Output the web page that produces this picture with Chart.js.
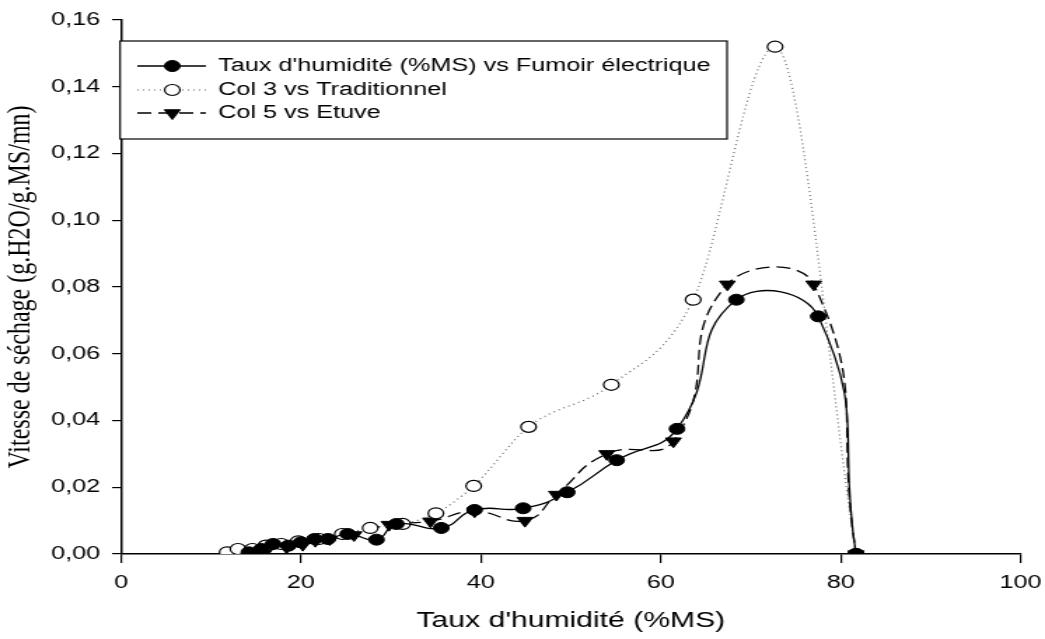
<!DOCTYPE html>
<html>
<head>
<meta charset="utf-8">
<title>Vitesse de séchage</title>
<script src="https://cdn.jsdelivr.net/npm/chart.js@4.4.1/dist/chart.umd.min.js"></script>
<style>
  html, body { margin: 0; padding: 0; background: #fff; overflow: hidden; }
</style>
</head>
<body>
<!-- the original figure is stretched horizontally, so the canvas is drawn narrower and widened by its inline style -->
<canvas id="dryingChart" width="746" height="639" style="width:1045px;height:639px;display:block;"></canvas>
<script>
// Taux d'humidité (%MS) on x, vitesse de séchage on y
const fumoirX = [14.2, 15.6, 16.9, 18.6, 20.0, 21.5, 23.0, 25.2, 28.4, 30.6, 35.6, 39.3, 44.7, 49.6, 55.1, 61.8, 68.4, 77.5, 81.7];
const fumoirY = [0.0005, 0.0015, 0.0030, 0.0025, 0.0035, 0.0045, 0.0045, 0.0060, 0.0043, 0.0090, 0.0078, 0.0132, 0.0137, 0.0185, 0.0281, 0.0375, 0.0762, 0.0712, 0];

const tradX = [11.8, 13.0, 14.6, 16.1, 17.8, 19.7, 22.0, 24.6, 27.7, 31.3, 35.0, 39.2, 45.3, 54.5, 63.6, 72.7, 81.7];
const tradY = [0.0005, 0.0015, 0.0015, 0.0025, 0.0030, 0.0038, 0.0045, 0.0060, 0.0078, 0.0090, 0.0122, 0.0204, 0.0381, 0.0507, 0.0762, 0.1520, 0];

const etuveX = [13.9, 15.1, 16.3, 18.4, 20.2, 21.6, 23.2, 25.9, 29.8, 34.4, 39.3, 44.9, 48.4, 54.0, 61.4, 67.4, 77.0, 81.7];
const etuveY = [0.0000, 0.0005, 0.0015, 0.0020, 0.0028, 0.0040, 0.0045, 0.0057, 0.0088, 0.0098, 0.0128, 0.0100, 0.0178, 0.0300, 0.0338, 0.0808, 0.0808, 0];

const seriesLabels = ["Taux d'humidité (%MS) vs Fumoir électrique", 'Col 3 vs Traditionnel', 'Col 5 vs Etuve'];
const xTicks = [0, 20, 40, 60, 80, 100];
const yTicks = [0, 0.02, 0.04, 0.06, 0.08, 0.10, 0.12, 0.14, 0.16];

const toPoints = (xs, ys) => xs.map((x, i) => ({ x: x, y: ys[i] }));

const sansFont = "'Liberation Sans', Arial, sans-serif";

// legend drawn by hand: framed box with line + marker samples
const boxLegend = {
  id: 'boxLegend',
  afterDraw(chart) {
    const ctx = chart.ctx;
    const left = 85.7, top = 41, right = 519, bottom = 139;
    const rows = [66, 90, 113];
    ctx.save();
    ctx.fillStyle = '#fff';
    ctx.fillRect(left, top, right - left, bottom - top);
    ctx.strokeStyle = '#000';
    ctx.lineWidth = 1.2;
    ctx.strokeRect(left, top, right - left, bottom - top);

    chart.data.datasets.forEach((ds, i) => {
      const y = rows[i];
      ctx.save();
      ctx.strokeStyle = ds.borderColor;
      ctx.lineWidth = ds.borderWidth;
      ctx.setLineDash(ds.borderDash || []);
      ctx.beginPath();
      ctx.moveTo(98, y);
      ctx.lineTo(147, y);
      ctx.stroke();
      ctx.restore();

      const cx = 123, r = ds.pointRadius;
      ctx.beginPath();
      if (ds.pointStyle === 'triangle') {
        ctx.moveTo(cx, y + r);
        ctx.lineTo(cx - r * 0.866, y - r / 2);
        ctx.lineTo(cx + r * 0.866, y - r / 2);
        ctx.closePath();
      } else {
        ctx.arc(cx, y, r, 0, Math.PI * 2);
      }
      ctx.fillStyle = ds.pointBackgroundColor;
      ctx.fill();
      ctx.strokeStyle = ds.pointBorderColor;
      ctx.lineWidth = ds.pointBorderWidth;
      ctx.stroke();

      ctx.fillStyle = '#000';
      ctx.font = '18px ' + sansFont;
      ctx.textBaseline = 'middle';
      ctx.textAlign = 'left';
      ctx.fillText(ds.label, 155.7, y);
    });
    ctx.restore();
  }
};

const ctx = document.getElementById('dryingChart');

new Chart(ctx, {
  type: 'scatter',
  data: {
    datasets: [
      {
        label: seriesLabels[0],
        data: toPoints(fumoirX, fumoirY),
        showLine: true,
        tension: 0.5,
        borderColor: '#000',
        borderWidth: 1.3,
        pointStyle: 'circle',
        pointRadius: 5.5,
        pointBackgroundColor: '#000',
        pointBorderColor: '#000',
        pointBorderWidth: 1,
      },
      {
        label: seriesLabels[1],
        data: toPoints(tradX, tradY),
        showLine: true,
        cubicInterpolationMode: 'monotone',
        borderColor: '#666',
        borderWidth: 1.2,
        borderDash: [1, 3],
        pointStyle: 'circle',
        pointRadius: 5.5,
        pointBackgroundColor: '#fff',
        pointBorderColor: '#000',
        pointBorderWidth: 1.2,
      },
      {
        label: seriesLabels[2],
        data: toPoints(etuveX, etuveY),
        showLine: true,
        tension: 0.5,
        borderColor: '#000',
        borderWidth: 1.3,
        borderDash: [10, 5],
        pointStyle: 'triangle',
        pointRotation: 180,
        pointRadius: 6.5,
        pointBackgroundColor: '#000',
        pointBorderColor: '#000',
        pointBorderWidth: 1,
      },
    ],
  },
  options: {
    responsive: false,
    animation: false,
    layout: { padding: { top: 20, right: 17.4, left: 0, bottom: 0 } },
    plugins: {
      legend: { display: false },
      tooltip: { enabled: false },
    },
    scales: {
      x: {
        type: 'linear',
        min: 0,
        max: 100,
        afterBuildTicks: (scale) => { scale.ticks = xTicks.map(v => ({ value: v })); },
        afterFit: (scale) => {
          scale.height = 85;
          scale.paddingRight = 10;
          scale.paddingLeft = 0;
        },
        ticks: {
          color: '#000',
          padding: 9,
          font: { family: sansFont, size: 18 },
          callback: (v) => String(v),
        },
        grid: { drawOnChartArea: false, drawTicks: true, tickLength: 9, color: '#000', lineWidth: 1.2 },
        border: { display: true, color: '#000', width: 1.5 },
        title: {
          display: true,
          text: "Taux d'humidité (%MS)",
          color: '#000',
          font: { family: sansFont, size: 21.5 },
          padding: { top: 0, bottom: 5 },
        },
      },
      y: {
        min: 0,
        max: 0.16,
        afterBuildTicks: (scale) => { scale.ticks = yTicks.map(v => ({ value: v })); },
        afterFit: (scale) => { scale.width = 86.4; },
        ticks: {
          color: '#000',
          padding: 8.5,
          font: { family: sansFont, size: 18 },
          callback: (v) => v.toFixed(2).replace('.', ','),
        },
        grid: { drawOnChartArea: false, drawTicks: true, tickLength: 6.4, color: '#000', lineWidth: 1.2 },
        border: { display: true, color: '#000', width: 1.5 },
        title: {
          display: true,
          text: 'Vitesse de séchage (g.H2O/g.MS/mn)',
          color: '#000',
          font: { family: "'Liberation Serif', 'Times New Roman', serif", size: 24 },
          padding: { top: 0, bottom: 0 },
        },
      },
    },
  },
  plugins: [boxLegend],
});
</script>
</body>
</html>
